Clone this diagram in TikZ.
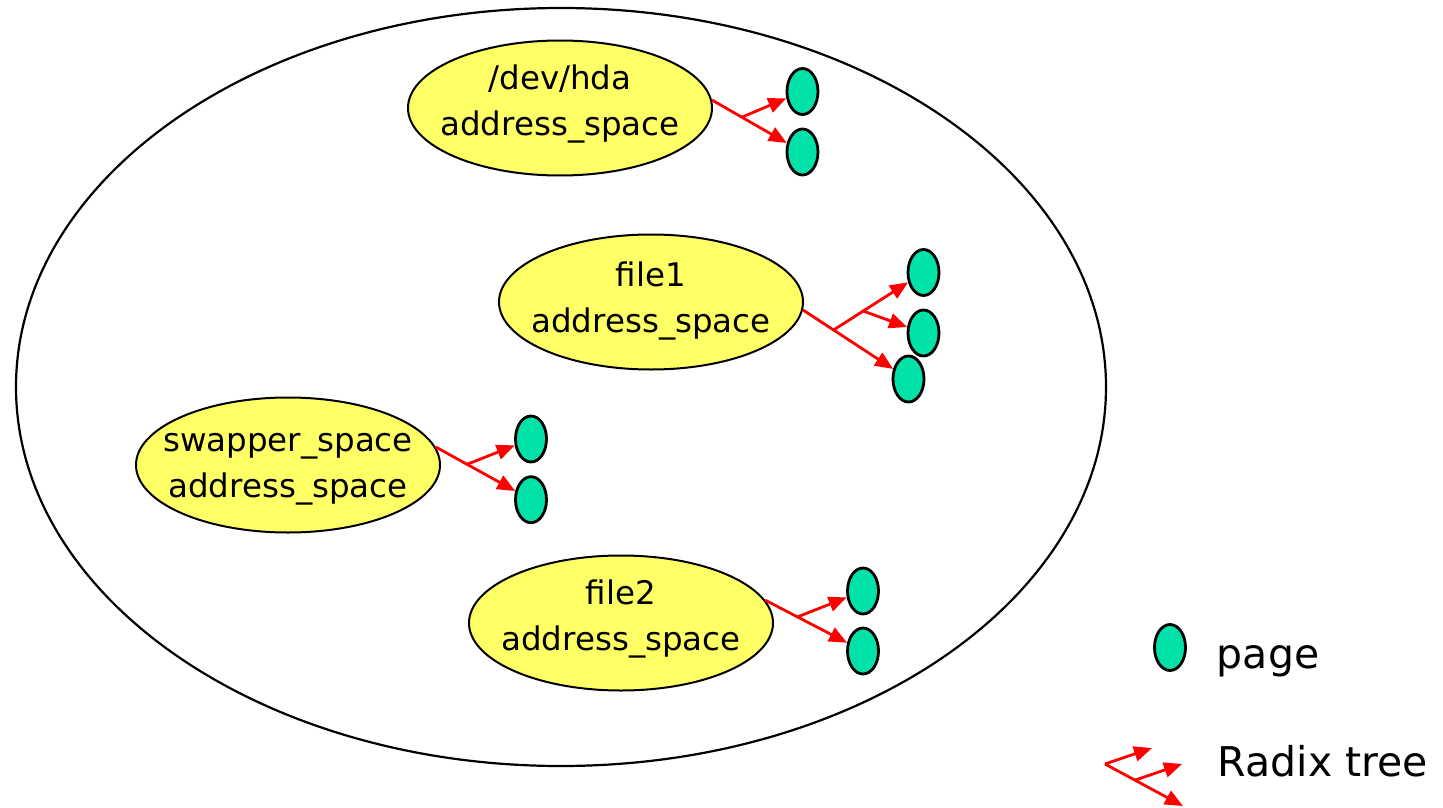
\documentclass[tikz,border=0pt]{standalone}
\usepackage{fontspec}
\setmainfont{DejaVu Sans}
\usetikzlibrary{shapes.geometric,arrows.meta,calc}
\definecolor{spacefill}{RGB}{255,255,102}
\definecolor{pagefill}{RGB}{0,226,168}
\definecolor{treered}{RGB}{255,0,0}

\begin{document}
\begin{tikzpicture}[x=1pt,y=-1pt,
  cachenode/.style={ellipse, draw=black, line width=2.2pt, minimum width=1090pt, minimum height=758pt, inner sep=0pt},
  spacenode/.style={ellipse, draw=black, line width=2pt, fill=spacefill, minimum width=304pt, minimum height=135pt, inner sep=0pt},
  spacetext/.style={align=center, font=\fontsize{32.5}{45.5}\selectfont, inner sep=0pt},
  pagenode/.style={ellipse, draw=black, line width=2.8pt, fill=pagefill, minimum width=31pt, minimum height=46pt, inner sep=0pt},
  treeedge/.style={draw=treered, line width=2.8pt},
  treearrow/.style={treeedge, -{Triangle[length=18pt,width=15pt]}},
  legendtext/.style={anchor=base west, font=\fontsize{41}{49}\selectfont, inner sep=0pt}]

\useasboundingbox (0,0) rectangle (1443,808);

% the page cache holding every address space
\node[cachenode] (cache) at (561,387) {};

% address spaces
\node[spacenode] (hda) at (560,108) {};
\node[spacetext, yshift=4pt] (hda-text) at (hda.center) {/dev/hda\\address\_space};
\node[spacenode] (file1) at (651,302) {};
\node[spacetext, yshift=1pt] (file1-text) at (file1.center) {file1\\address\_space};
\node[spacenode] (swapper) at (288,465) {};
\node[spacetext, yshift=-4pt] (swapper-text) at (swapper.center) {swapper\_space\\address\_space};
\node[spacenode] (file2) at (621,623) {};
\node[spacetext, yshift=4pt] (file2-text) at (file2.center) {file2\\address\_space};

% cached pages
\node[pagenode] (hda-p1) at (802.5,91.5) {};
\node[pagenode] (hda-p2) at (802.5,152) {};
\node[pagenode] (file1-p1) at (923.5,272.5) {};
\node[pagenode] (file1-p2) at (923.5,333) {};
\node[pagenode] (file1-p3) at (908.5,379) {};
\node[pagenode] (swapper-p1) at (531,439) {};
\node[pagenode] (swapper-p2) at (531,499.7) {};
\node[pagenode] (file2-p1) at (863,591) {};
\node[pagenode] (file2-p2) at (863,651) {};

% radix trees: /dev/hda
\coordinate (hda-root) at (hda.3.8);
\coordinate (hda-fork) at ($(hda-root)!0.33!(hda-p2.center)$);
\draw[treearrow] (hda-root) -- (hda-p2);
\draw[treearrow] (hda-fork) -- (hda-p1);

% radix trees: file1
\coordinate (file1-root) at (file1.-3);
\coordinate (file1-fork) at ($(file1-root)!0.29!(file1-p3.center)$);
\coordinate (file1-fork2) at ($(file1-fork)!0.33!(file1-p1.center)$);
\draw[treearrow] (file1-root) -- (file1-p3);
\draw[treearrow] (file1-fork) -- (file1-p1);
\draw[treearrow] (file1-fork2) -- (file1-p2);

% radix trees: swapper_space
\coordinate (swapper-root) at (swapper.7.4);
\coordinate (swapper-fork) at ($(swapper-root)!0.33!(swapper-p2.center)$);
\draw[treearrow] (swapper-root) -- (swapper-p2);
\draw[treearrow] (swapper-fork) -- (swapper-p1);

% radix trees: file2
\coordinate (file2-root) at (file2.9.5);
\coordinate (file2-fork) at ($(file2-root)!0.33!(file2-p2.center)$);
\draw[treearrow] (file2-root) -- (file2-p2);
\draw[treearrow] (file2-fork) -- (file2-p1);

% legend
\node[pagenode] (key-page) at (1170,647.5) {};
\node[legendtext] (key-page-text) at (1216.7,668) {page};
\coordinate (key-root) at (1105,764);
\coordinate (key-a) at (1152,748);
\coordinate (key-b) at (1182,764);
\coordinate (key-c) at (1183,806);
\coordinate (key-fork) at ($(key-root)!0.385!(key-c)$);
\draw[treearrow] (key-root) -- (key-a);
\draw[treearrow] (key-root) -- (key-c);
\draw[treearrow] (key-fork) -- (key-b);
\node[legendtext] (key-tree-text) at (1217.7,776.7) {Radix tree};
\end{tikzpicture}
\end{document}
